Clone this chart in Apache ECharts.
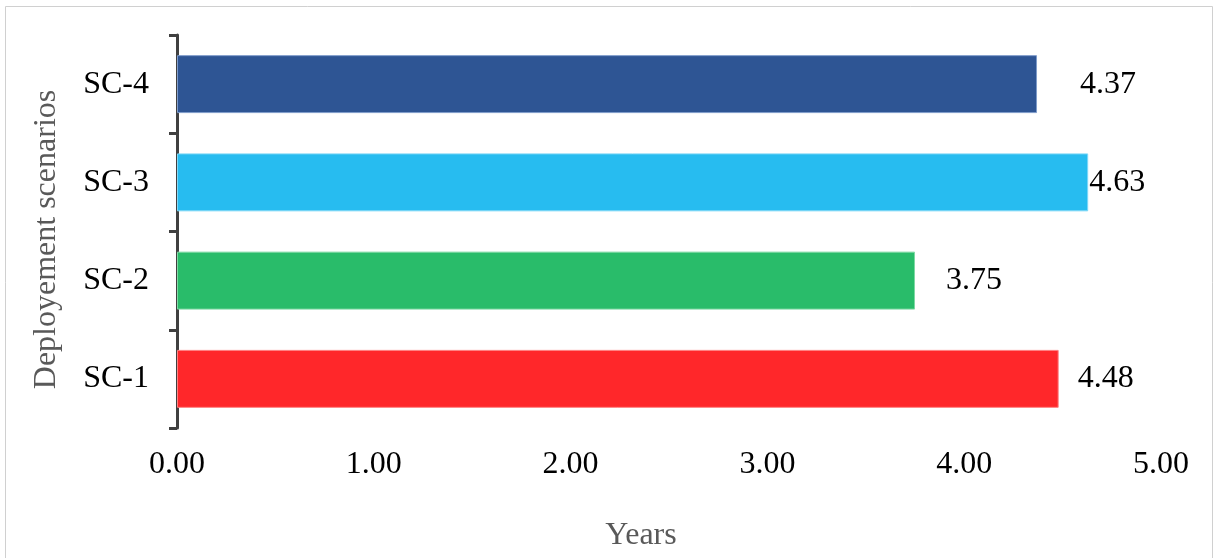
<!DOCTYPE html>
<html>
<head>
<meta charset="utf-8">
<script src="https://cdn.jsdelivr.net/npm/echarts@6/dist/echarts.min.js"></script>
<style>
html,body{margin:0;padding:0;background:#fff;}
#chart{width:1217px;height:558px;}
</style>
</head>
<body>
<div id="chart"></div>
<script>
const categories = ['SC-1', 'SC-2', 'SC-3', 'SC-4'];
const years = [4.48, 3.75, 4.63, 4.37];
const xTicks = [0, 1, 2, 3, 4, 5];

const barColors = ['#FF272A', '#29BC6A', '#27BCF0', '#2E5594'];
const barBorders = ['#FF8080', '#7ED9A4', '#7FD8F7', '#7F9CCB'];
const labelShift = [19, 31, 1, 43];

const font = '"Liberation Serif", "Times New Roman", serif';
const chart = echarts.init(document.getElementById('chart'));
chart.setOption({
  animation: false,
  backgroundColor: '#fff',
  graphic: [{
    type: 'rect',
    shape: { x: 5.5, y: 6.5, width: 1207, height: 560 },
    style: { fill: 'none', stroke: '#D0D0D0', lineWidth: 1 },
    z: -1
  }],
  grid: { left: 177, right: 56, top: 35, bottom: 130, containLabel: false, outerBoundsMode: 'none' },
  xAxis: {
    type: 'value',
    min: xTicks[0], max: xTicks[xTicks.length - 1], interval: 1,
    axisLine: { show: false },
    axisTick: { show: false },
    splitLine: { show: false },
    axisLabel: {
      margin: 21,
      color: '#000',
      fontFamily: font,
      fontSize: 32,
      formatter: v => v.toFixed(2)
    },
    name: 'Years',
    nameLocation: 'middle',
    nameGap: 92,
    nameTextStyle: { color: '#595959', fontFamily: font, fontSize: 32, padding: [0, 56, 0, 0] }
  },
  yAxis: {
    type: 'category',
    data: categories,
    axisLine: { show: true, lineStyle: { color: '#404040', width: 3 } },
    axisTick: { show: true, length: 8, lineStyle: { color: '#404040', width: 3 } },
    axisLabel: {
      margin: 28,
      color: '#000',
      fontFamily: font,
      fontSize: 32
    },
    name: 'Deployement scenarios',
    nameLocation: 'middle',
    nameGap: 114,
    nameTextStyle: { color: '#595959', fontFamily: font, fontSize: 32, padding: [0, 16, 0, 0] }
  },
  series: [{
    type: 'bar',
    barCategoryGap: '41%',
    data: years.map((v, i) => ({
      value: v,
      itemStyle: { color: barColors[i], borderColor: barBorders[i], borderWidth: 1 },
      label: { offset: [labelShift[i], 0] }
    })),
    label: {
      show: true,
      position: 'right',
      distance: 0,
      color: '#000',
      fontFamily: font,
      fontSize: 32,
      formatter: p => p.value.toFixed(2)
    }
  }]
});
</script>
</body>
</html>
